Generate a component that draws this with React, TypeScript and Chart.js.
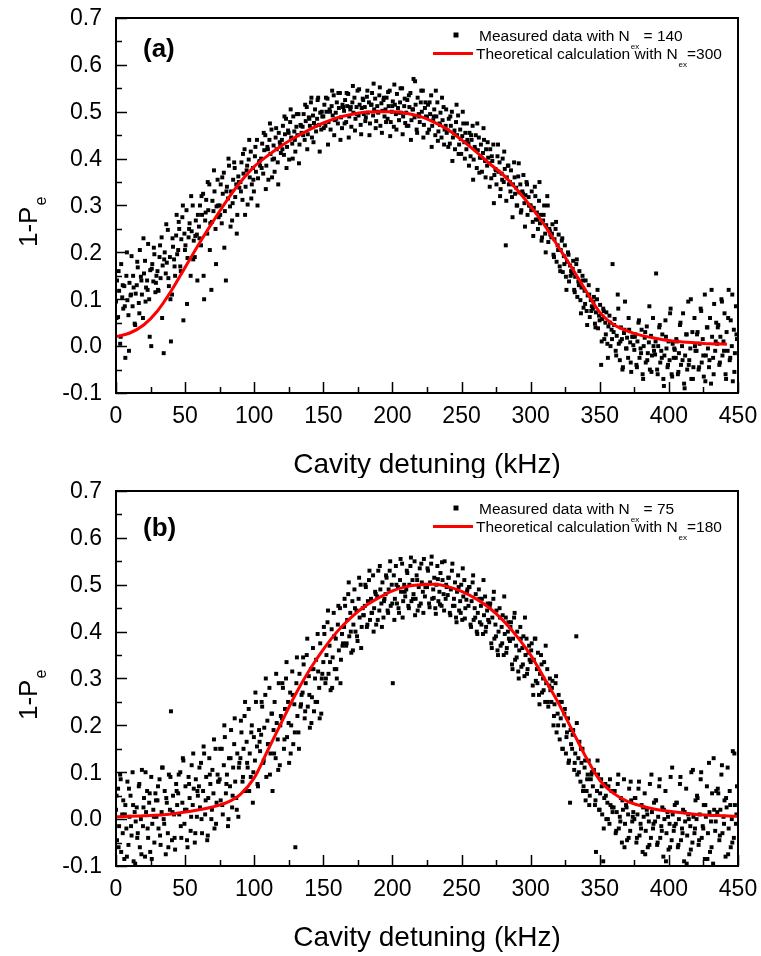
import React, { useEffect, useRef } from "react";
import { Chart, registerables } from "chart.js";

Chart.register(...registerables);

// ---------------- data ----------------
// detuning sweep grids of the measured points (kHz)
const sweep1StartKHz = 0;
const sweep1StepKHz = 0.75;
const sweep2StartKHz = 0.375;
const sweep2StepKHz = 1.5;

// panel (a): measured 1-Pe, in thousandths, sweep 1
const measuredA1_milli = [
  95, 140, 62, 118, 5, 175, 104, 80, 128, -25, 150, 98, 66, 135, 108, 192, 85, 125, 48, 112,
  130, 168, 92, 205, 148, 110, 60, 155, 182, 125, 140, 218, 100, 162, 0, 175, 138, 196, 115, 150,
  160, 118, 190, 145, 232, 172, -15, 200, 155, 178, 248, 128, 190, 10, 110, 212, 185, 150, 236, 196,
  205, 250, 170, 228, 275, 55, 240, 215, 290, 188, 232, 262, 150, 245, 300, 225, 190, 268, 238, 280,
  255, 300, 215, 280, 325, 100, 268, 312, 240, 290, 345, 262, 120, 310, 288, 330, 250, 298, 355, 275,
  300, 345, 262, 325, 370, 288, 140, 340, 315, 385, 298, 330, 268, 355, 392, 318, 345, 280, 362, 338,
  350, 392, 312, 368, 420, 340, 375, 302, 398, 360, 415, 345, 380, 330, 405, 372, 440, 358, 392, 385,
  400, 432, 368, 418, 450, 385, 425, 355, 440, 410, 462, 398, 428, 372, 445, 420, 392, 455, 435, 412,
  440, 470, 408, 452, 485, 425, 460, 398, 478, 445, 432, 490, 458, 415, 468, 450, 495, 430, 472, 455,
  468, 495, 440, 480, 510, 452, 488, 470, 520, 445, 492, 476, 505, 458, 485, 530, 472, 498, 462, 490,
  490, 515, 470, 500, 528, 478, 505, 462, 512, 492, 535, 482, 498, 520, 475, 508, 540, 488, 465, 510,
  502, 525, 478, 512, 538, 490, 505, 468, 520, 498, 530, 485, 510, 545, 492, 515, 472, 508, 528, 495,
  510, 488, 532, 498, 520, 475, 515, 540, 492, 505, 528, 480, 512, 498, 535, 470, 518, 502, 525, 490,
  505, 530, 485, 512, 545, 478, 500, 522, 468, 515, 495, 538, 508, 482, 520, 498, 550, 490, 512, 476,
  498, 525, 470, 510, 540, 482, 505, 570, 488, 515, 462, 530, 495, 478, 520, 500, 545, 472, 508, 490,
  488, 515, 462, 495, 535, 470, 482, 505, 450, 490, 520, 458, 475, 498, 445, 482, 510, 462, 470, 455,
  460, 485, 432, 470, 500, 445, 455, 420, 478, 450, 492, 430, 462, 410, 448, 475, 435, 455, 420, 440,
  432, 455, 405, 440, 470, 398, 425, 450, 380, 418, 445, 402, 430, 372, 412, 440, 395, 420, 385, 402,
  390, 420, 358, 395, 430, 365, 378, 345, 405, 372, 392, 335, 368, 400, 350, 378, 215, 360, 385, 345,
  350, 375, 318, 345, 392, 325, 338, 300, 362, 328, 345, 290, 330, 365, 305, 322, 350, 280, 318, 300,
  300, 330, 265, 295, 340, 270, 285, 250, 310, 262, 280, 232, 268, 300, 240, 258, 320, 222, 250, 238,
  232, 260, 195, 228, 250, 180, 215, 238, 170, 205, 225, 158, 192, 215, 148, 180, 200, 138, 172, 160,
  155, 182, 120, 148, 175, 105, 138, 160, 98, 125, 150, 82, 118, 140, 75, 108, 130, 62, 98, 85,
  80, 105, 48, 72, 100, 38, 65, 88, -40, 58, 80, 15, 50, 72, 5, 42, 65, 0, 35, 175,
  30, 58, -10, 22, 110, 5, -30, 40, 15, -45, 28, 95, -5, 18, -25, 35, 8, -55, 20, 2,
  -8, 25, -40, 10, 50, -25, -5, 35, -60, 0, 18, -35, 42, -15, 8, -50, 22, -20, 60, -10,
  -18, 155, -50, 0, 40, -35, -10, 25, -70, -20, 55, -5, -45, 10, -30, 80, -60, 5, -25, -8,
  -25, 10, -60, -15, 45, -40, 0, 70, -80, -20, 25, -50, 95, -30, -5, -70, 30, -45, 60, -10,
  -10, 30, -50, 5, 80, -35, 15, -65, 110, -20, 40, -5, -45, 60, -80, 20, -25, 90, -10, 50,
  5, 45, -40, 20, 100, -20, 10, 70, -60, 30, -10, 120, -30, 55, 0, -75, 35, -15, 85, 15,
];

// panel (a): measured 1-Pe, in thousandths, sweep 2
const measuredA2_milli = [
  60, 160, 20, 130, 85, 200, -10, 110, 150, 45,
  180, 70, 140, 230, 95, 120, 20, 165, 210, 135,
  120, 215, 60, 185, 260, 145, 100, 230, 170, 280,
  265, 160, 300, 205, 90, 250, 320, 185, 235, 140,
  230, 320, 150, 285, 350, 205, 265, 375, 175, 300,
  280, 360, 210, 330, 400, 255, 305, 380, 240, 350,
  330, 410, 280, 385, 440, 315, 355, 425, 300, 395,
  380, 455, 335, 420, 475, 360, 400, 465, 345, 430,
  420, 490, 380, 455, 505, 400, 440, 495, 390, 470,
  450, 515, 420, 485, 530, 435, 470, 525, 415, 500,
  465, 530, 430, 500, 545, 450, 485, 540, 440, 515,
  475, 540, 445, 510, 555, 460, 495, 548, 452, 525,
  480, 545, 450, 515, 560, 465, 500, 552, 455, 530,
  478, 542, 448, 512, 558, 462, 498, 550, 452, 528,
  470, 535, 440, 505, 565, 455, 490, 545, 445, 520,
  455, 520, 425, 490, 545, 438, 472, 530, 430, 505,
  425, 490, 395, 460, 515, 410, 442, 500, 400, 475,
  385, 450, 355, 420, 475, 370, 402, 465, 360, 435,
  340, 405, 305, 375, 430, 320, 355, 415, 310, 385,
  330, 275, 360, 300, 390, 285, 325, 255, 345, 300,
  290, 235, 320, 270, 350, 225, 280, 200, 300, 245,
  240, 190, 265, 205, 160, 230, 175, 120, 195, 150,
  165, 115, 185, 130, 70, 140, 90, 45, 110, 75,
  95, 40, 120, 55, 10, 75, 25, -25, 50, 15,
  45, -20, 80, 10, -50, 35, -5, 60, -35, 20,
  20, -45, 55, -15, -70, 30, -30, 85, -55, 0,
  10, -60, 45, -25, -85, 20, -40, 70, -65, -5,
  15, -55, 50, -30, -90, 25, -40, 100, -70, 0,
  25, -45, 75, -20, -75, 40, -30, 120, -60, 10,
  40, -35, 95, -10, -70, 60, -25, 110, -55, 25,
];

// panel (b): measured 1-Pe, in thousandths, sweep 1
const measuredB1_milli = [
  20, -45, 65, -15, 95, -70, 10, 40, -85, 30, -20, 80, -55, 5, 50, -35, 100, -90, 15, -5,
  25, -30, 70, -60, 0, 105, -15, 45, -80, 15, 60, -40, 35, -70, 90, -10, 20, -50, 55, 5,
  40, -20, 85, -55, 15, 110, 0, 60, -75, 35, -30, 95, 20, 230, -45, 50, 10, -65, 75, 30,
  55, 10, 100, -40, 35, 125, -10, 70, 20, -60, 90, 45, -25, 115, 30, 65, -50, 85, 5, 50,
  70, 25, 120, -30, 60, 140, 10, 90, -45, 45, 130, 75, 0, 105, 55, -20, 150, 35, 95, 80,
  85, 40, 150, 10, 115, 175, 55, 95, -15, 130, 70, 190, 25, 110, 160, 80, 45, 140, 5, 120,
  130, 185, 80, 150, 220, 60, 165, 110, 235, 140, 90, 200, 35, 175, 125, 250, 155, 70, 190, 145,
  180, 240, 120, 195, 265, 90, 210, 160, 280, 140, 225, 60, 190, 250, 130, 205, 170, 290, 115, 220,
  215, 280, 150, 235, 300, 175, 250, 120, 270, 200, 315, 160, 245, -60, 290, 220, 185, 310, 240, 265,
  270, 330, 215, 290, 350, 240, 305, 195, 320, 260, 365, 230, 300, 340, 250, 315, 280, 375, 225, 310,
  335, 395, 290, 350, 420, 310, 370, 275, 405, 345, 440, 320, 385, 300, 415, 360, 450, 340, 395, 375,
  410, 455, 370, 425, 480, 390, 440, 355, 465, 415, 490, 400, 445, 380, 470, 430, 500, 410, 450, 435,
  455, 495, 410, 465, 510, 425, 470, 440, 520, 450, 485, 415, 475, 530, 445, 490, 460, 505, 430, 470,
  480, 515, 445, 490, 530, 455, 500, 290, 520, 470, 540, 460, 495, 440, 510, 485, 545, 465, 500, 475,
  490, 525, 455, 500, 540, 465, 510, 480, 550, 470, 520, 445, 495, 535, 460, 505, 485, 555, 475, 500,
  495, 530, 460, 505, 545, 470, 490, 515, 450, 500, 540, 465, 485, 525, 455, 510, 480, 550, 470, 495,
  478, 515, 440, 490, 530, 455, 470, 505, 430, 485, 520, 445, 465, 500, 425, 475, 510, 450, 468, 490,
  455, 495, 415, 465, 505, 425, 450, 480, 400, 440, 490, 420, 455, 470, 395, 435, 475, 410, 445, 425,
  420, 460, 375, 430, 470, 385, 415, 445, 360, 400, 450, 370, 410, 435, 350, 395, 430, 365, 400, 385,
  380, 420, 330, 385, 430, 340, 370, 400, 315, 360, 410, 325, 365, 390, 305, 350, 385, 320, 355, 340,
  335, 375, 285, 340, 385, 295, 320, 355, 265, 310, 350, 270, 300, 335, 250, 290, 320, 240, 285, 275,
  250, 295, 200, 245, 290, 185, 225, 265, 170, 215, 250, 150, 200, 235, 140, 185, 215, 125, 35, 160,
  150, 190, 105, 140, 390, 95, 130, 165, 80, 120, 150, 70, 110, 40, 60, 95, 125, 50, 85, 100,
  70, 105, 30, -70, 60, 95, 20, 55, 85, 10, -90, 45, 75, 0, 35, 70, -10, 30, 60, 15,
  25, 60, -30, 15, 75, -20, 5, 45, -50, 20, 85, -10, 30, -45, 10, 65, -25, 40, -5, 15,
  0, 45, -50, 10, 65, -35, -10, 30, -70, 5, 55, -25, 20, -60, -5, 75, -40, 15, -20, 35,
  -5, 40, -55, 5, 70, -40, -15, 25, -80, 0, 60, -30, 15, -65, -10, 90, -45, 10, -25, 30,
  -10, 35, -60, 0, 75, -45, -20, 20, -90, -5, 65, -35, 10, -75, -15, 100, -50, 5, -30, 40,
  0, 45, -55, 10, 85, -40, -15, 30, -85, 5, 70, -30, 120, -70, -5, 55, -95, 20, -25, 60,
  15, 55, -45, 20, 95, -30, 5, 40, -80, 25, 110, -20, 60, -60, 0, 145, -40, 30, -10, 70,
];

// panel (b): measured 1-Pe, in thousandths, sweep 2
const measuredB2_milli = [
  50, -60, 85, -30, 10, -80, 65, -15, 30, -95,
  -40, 75, -75, 25, 100, -20, 55, -85, 5, 40,
  70, -35, 110, -10, 45, -60, 90, 15, -40, 60,
  95, -15, 130, 20, -45, 75, 5, 140, -30, 60,
  110, 0, 155, 40, -35, 95, 20, 170, -10, 80,
  150, 30, 200, 75, 0, 130, 50, 215, 20, 110,
  210, 90, 250, 120, 60, 185, 100, 270, 75, 165,
  250, 125, 300, 160, 95, 225, 140, 310, 105, 200,
  290, 170, 335, 205, 140, 265, 185, 345, 150, 245,
  345, 230, 385, 265, 205, 320, 250, 395, 215, 300,
  410, 300, 445, 335, 280, 390, 320, 455, 290, 370,
  470, 375, 505, 400, 360, 450, 390, 515, 365, 435,
  500, 415, 530, 440, 400, 480, 425, 540, 410, 465,
  520, 440, 550, 460, 425, 500, 450, 555, 430, 485,
  530, 450, 558, 470, 435, 510, 455, 545, 440, 495,
  535, 452, 560, 472, 438, 512, 458, 548, 445, 500,
  515, 435, 545, 455, 420, 495, 440, 535, 428, 485,
  495, 410, 520, 430, 395, 470, 415, 510, 400, 460,
  455, 365, 485, 390, 350, 430, 375, 475, 355, 420,
  410, 320, 440, 345, 300, 385, 330, 430, 310, 370,
  360, 265, 385, 290, 245, 330, 275, 370, 250, 300,
  280, 220, 305, 200, 250, 150, 225, 175, 120, 190,
  180, 120, 205, 100, 150, 60, 125, 85, 30, 95,
  100, 40, 125, 20, 70, -20, 50, 0, 85, 25,
  60, -25, 95, -5, 40, -60, 25, -40, 80, 5,
  45, -40, 80, -20, 25, -75, 10, -55, 95, -10,
  40, -50, 85, -25, 20, -90, 5, -60, 110, -15,
  35, -55, 90, -30, 15, -95, 0, -65, 105, -20,
  50, -45, 100, -20, 30, -85, 15, -60, 130, -5,
  65, -35, 115, -10, 45, -75, 30, -50, 140, 10,
];

// theoretical curves (red)
const theoryA_x = [0, 10, 20, 30, 40, 50, 60, 70, 80, 90, 100, 110, 120, 130, 140, 150, 160, 170, 180, 190, 200, 210, 220, 230, 240, 250, 260, 270, 280, 290, 300, 310, 320, 330, 340, 350, 360, 370, 380, 390, 400, 410, 420, 430, 442];
const theoryA_y = [0.02, 0.028, 0.045, 0.075, 0.118, 0.168, 0.218, 0.265, 0.31, 0.35, 0.383, 0.407, 0.428, 0.446, 0.462, 0.476, 0.487, 0.494, 0.499, 0.5, 0.5, 0.497, 0.49, 0.478, 0.462, 0.44, 0.416, 0.39, 0.366, 0.334, 0.298, 0.258, 0.212, 0.166, 0.118, 0.072, 0.046, 0.032, 0.023, 0.017, 0.012, 0.009, 0.007, 0.005, 0.004];

const theoryB_x = [0, 20, 40, 60, 70, 80, 90, 100, 110, 120, 130, 140, 150, 160, 170, 180, 190, 200, 210, 220, 230, 240, 250, 260, 270, 280, 290, 300, 310, 320, 330, 340, 350, 360, 370, 380, 390, 400, 420, 440, 450];
const theoryB_y = [0.005, 0.007, 0.011, 0.02, 0.026, 0.035, 0.053, 0.088, 0.148, 0.208, 0.267, 0.318, 0.362, 0.4, 0.43, 0.454, 0.472, 0.487, 0.496, 0.5, 0.501, 0.496, 0.486, 0.471, 0.451, 0.424, 0.39, 0.35, 0.3, 0.248, 0.19, 0.132, 0.083, 0.055, 0.038, 0.028, 0.021, 0.017, 0.01, 0.007, 0.006];

// axes
const xTickValues = [0, 50, 100, 150, 200, 250, 300, 350, 400, 450];
const yTickValues = [-0.1, 0, 0.1, 0.2, 0.3, 0.4, 0.5, 0.6, 0.7];
const xAxisTitle = "Cavity detuning (kHz)";
const yAxisTitle = ["1-P", "e"];

// legend texts: [main, subscript, tail]
const legendMeasuredA = ["Measured data with N", "ex", " = 140"];
const legendTheoryA = ["Theoretical calculation with N", "ex", "=300"];
const legendMeasuredB = ["Measured data with N", "ex", " = 75"];
const legendTheoryB = ["Theoretical calculation with N", "ex", "=180"];

// ---------------- drawing ----------------
const FONT = '"Liberation Sans", Arial, Helvetica, sans-serif';
const W = 761;
const H = 478;

type PanelProps = {
  measured1: number[];
  measured2: number[];
  theoryX: number[];
  theoryY: number[];
  label: string;
  legendMeasured: string[];
  legendTheory: string[];
  padTop: number;
  xAxisHeight: number;
  labelOffset: number;
};

function drawSubText(ctx: CanvasRenderingContext2D, x: number, y: number, parts: string[], size: number) {
  ctx.textAlign = "left";
  ctx.textBaseline = "alphabetic";
  ctx.font = `${size}px ${FONT}`;
  ctx.fillText(parts[0], x, y);
  let cx = x + ctx.measureText(parts[0]).width + 1;
  ctx.font = `8px ${FONT}`;
  ctx.fillText(parts[1], cx, y + 8);
  cx += ctx.measureText(parts[1]).width;
  ctx.font = `${size}px ${FONT}`;
  ctx.fillText(parts[2], cx, y);
}

function makeDecor(p: PanelProps) {
  return {
    id: "decor",
    afterDraw(chart: any) {
      const { ctx, chartArea: a, scales } = chart;
      const xs = scales.x;
      const ys = scales.y;
      ctx.save();
      ctx.strokeStyle = "#000";
      ctx.fillStyle = "#000";
      // ticks (inward)
      ctx.lineWidth = 1.5;
      ctx.beginPath();
      for (let i = 0; i <= 18; i++) {
        const v = i * 25;
        const px = Math.round(xs.getPixelForValue(v)) + 0.5;
        const len = i % 2 === 0 ? 11 : 6;
        ctx.moveTo(px, a.bottom);
        ctx.lineTo(px, a.bottom - len);
      }
      for (let i = 0; i <= 16; i++) {
        const v = -0.1 + i * 0.05;
        const py = Math.round(ys.getPixelForValue(v)) + 0.5;
        const len = i % 2 === 0 ? 11 : 6;
        ctx.moveTo(a.left, py);
        ctx.lineTo(a.left + len, py);
      }
      ctx.stroke();
      // frame
      ctx.lineWidth = 2;
      ctx.strokeRect(a.left, a.top, a.right - a.left, a.bottom - a.top);

      // tick labels
      ctx.font = `23px ${FONT}`;
      ctx.textAlign = "center";
      ctx.textBaseline = "middle";
      xTickValues.forEach((v) => {
        ctx.fillText(String(v), xs.getPixelForValue(v), a.bottom + 24);
      });
      ctx.textAlign = "right";
      yTickValues.forEach((v) => {
        ctx.fillText(v.toFixed(1), a.left - 14, ys.getPixelForValue(v) + 1);
      });

      // x title
      ctx.font = `28px ${FONT}`;
      ctx.textAlign = "center";
      ctx.fillText(xAxisTitle, (a.left + a.right) / 2, a.bottom + 72);

      // y title, rotated with subscript
      ctx.save();
      ctx.translate(37, a.top + 229);
      ctx.rotate(-Math.PI / 2);
      ctx.textAlign = "left";
      ctx.textBaseline = "alphabetic";
      ctx.font = `26px ${FONT}`;
      ctx.fillText(yAxisTitle[0], 0, 0);
      const w = ctx.measureText(yAxisTitle[0]).width;
      ctx.font = `16px ${FONT}`;
      ctx.fillText(yAxisTitle[1], w + 1, 9);
      ctx.restore();

      // panel label
      ctx.font = `bold 26px ${FONT}`;
      ctx.textAlign = "left";
      ctx.textBaseline = "middle";
      ctx.fillText(p.label, 143, a.top + p.labelOffset);

      // legend
      const l1 = a.top + 17;
      const l2 = a.top + 35.5;
      ctx.fillRect(453.5, l1 - 2.5, 5, 5);
      drawSubText(ctx, 479, l1 + 5.5, p.legendMeasured, 15.5);
      ctx.strokeStyle = "#ff0000";
      ctx.lineWidth = 3;
      ctx.beginPath();
      ctx.moveTo(433, l2);
      ctx.lineTo(473, l2);
      ctx.stroke();
      ctx.fillStyle = "#000";
      drawSubText(ctx, 476, l2 + 5.5, p.legendTheory, 15.5);
      ctx.restore();
    },
  };
}

function Panel(p: PanelProps) {
  const ref = useRef<HTMLCanvasElement | null>(null);
  useEffect(() => {
    if (!ref.current) return;
    const sweep1 = p.measured1.map((v, i) => ({ x: sweep1StartKHz + i * sweep1StepKHz, y: v / 1000 }));
    const sweep2 = p.measured2.map((v, i) => ({ x: sweep2StartKHz + i * sweep2StepKHz, y: v / 1000 }));
    const lineData = p.theoryX.map((x, i) => ({ x, y: p.theoryY[i] }));
    const pointStyle = {
      backgroundColor: "#000",
      borderWidth: 0,
      pointStyle: "rect",
      pointRadius: 2.8,
      order: 1,
    };
    const chart = new Chart(ref.current, {
      type: "scatter",
      data: {
        datasets: [
          {
            type: "line",
            label: "theory",
            data: lineData,
            borderColor: "#ff0000",
            borderWidth: 3,
            pointRadius: 0,
            fill: false,
            cubicInterpolationMode: "monotone",
            order: 0,
          } as any,
          { type: "scatter", label: "measured1", data: sweep1, ...pointStyle } as any,
          { type: "scatter", label: "measured2", data: sweep2, ...pointStyle } as any,
        ],
      },
      options: {
        responsive: false,
        maintainAspectRatio: false,
        animation: false,
        events: [],
        layout: { padding: { top: p.padTop, right: 23, bottom: 0, left: 0 } },
        plugins: { legend: { display: false }, tooltip: { enabled: false }, title: { display: false } },
        scales: {
          x: {
            type: "linear",
            min: 0,
            max: 450,
            grid: { display: false, drawTicks: false },
            border: { display: false },
            ticks: { display: false, stepSize: 50 },
            afterFit: (s: any) => {
              s.height = p.xAxisHeight;
            },
          },
          y: {
            type: "linear",
            min: -0.1,
            max: 0.7,
            grid: { display: false, drawTicks: false },
            border: { display: false },
            ticks: { display: false, stepSize: 0.1 },
            afterFit: (s: any) => {
              s.width = 116;
            },
          },
        },
      } as any,
      plugins: [makeDecor(p)],
    });
    return () => chart.destroy();
  }, []);
  return <canvas ref={ref} width={W} height={H} style={{ display: "block", width: W, height: H }} />;
}

export default function App() {
  return (
    <div style={{ position: "absolute", left: 0, top: 0, width: W, height: 2 * H, background: "#fff" }}>
      <Panel
        measured1={measuredA1_milli}
        measured2={measuredA2_milli}
        theoryX={theoryA_x}
        theoryY={theoryA_y}
        label="(a)"
        legendMeasured={legendMeasuredA}
        legendTheory={legendTheoryA}
        padTop={18}
        xAxisHeight={85}
        labelOffset={32}
      />
      <Panel
        measured1={measuredB1_milli}
        measured2={measuredB2_milli}
        theoryX={theoryB_x}
        theoryY={theoryB_y}
        label="(b)"
        legendMeasured={legendMeasuredB}
        legendTheory={legendTheoryB}
        padTop={13}
        xAxisHeight={90}
        labelOffset={38}
      />
    </div>
  );
}
